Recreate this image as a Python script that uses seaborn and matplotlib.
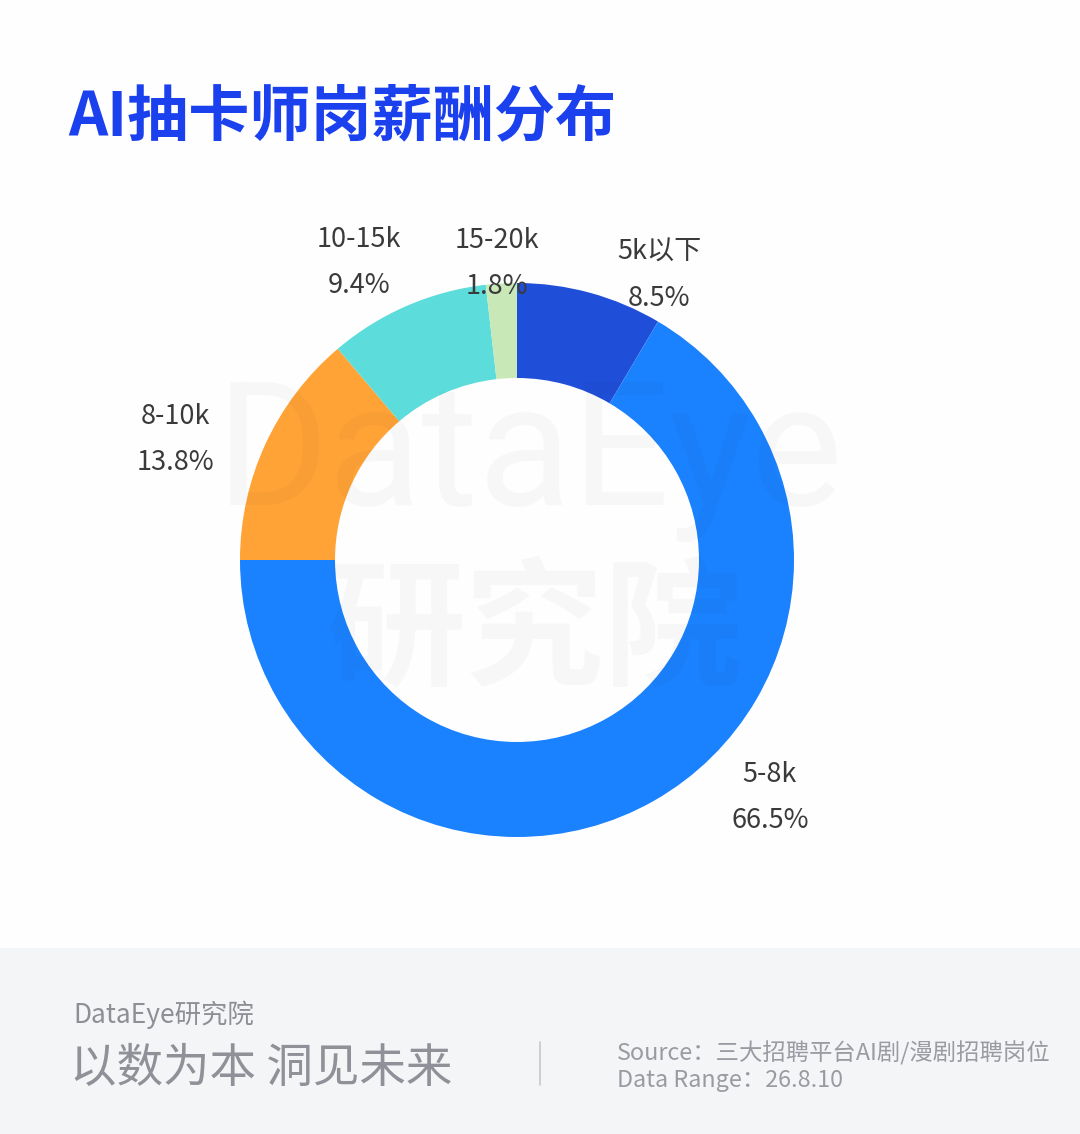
import matplotlib
matplotlib.use("Agg")
import matplotlib.pyplot as plt
import seaborn as sns
import numpy as np

# data, clockwise from 12 o'clock
categories = ["5k以下", "5-8k", "8-10k", "10-15k", "15-20k"]
shares = [8.5, 66.5, 13.8, 9.4, 1.8]
colors = ["#1F4FD8", "#1A82FF", "#FFA336", "#5CDCDA", "#C8E8B8"]

title = "AI抽卡师岗薪酬分布"
source_text = "Source：三大招聘平台AI剧/漫剧招聘岗位"
range_text = "Data Range：26.8.10"

sns.set_theme(style="white")
plt.rcParams['font.family'] = ['Noto Sans CJK SC', 'DejaVu Sans']

W, H, DPI = 1080, 1134, 100
fig = plt.figure(figsize=(W / DPI, H / DPI), dpi=DPI)
fig.patch.set_facecolor("#FEFEFE")

# footer band
band = fig.add_axes([0, 0, 1, 186 / H])
band.set_facecolor("#F4F5F7")
band.set_xticks([]); band.set_yticks([])
for s in band.spines.values():
    s.set_visible(False)

# donut, center (517, 560) px, radius 277 px
cx, cy, R = 517, 560, 277
ax = fig.add_axes([(cx - R) / W, (H - cy - R) / H, 2 * R / W, 2 * R / H])
wedges, _ = ax.pie(shares, colors=colors, startangle=90, counterclock=False,
                   wedgeprops=dict(width=0.343, linewidth=0))
ax.set_xlim(-1, 1); ax.set_ylim(-1, 1)
ax.set_aspect("equal")
ax.axis("off")

# labels: anchored at 1.1R on the mid angle, nudged like the original layout (px, y down)
nudge = {"5k以下": (62, 9), "5-8k": (102, -27), "8-10k": (-65, 8),
         "10-15k": (-37, -18), "15-20k": (-3, 8)}
for w, name, val in zip(wedges, categories, shares):
    mid = np.deg2rad((w.theta1 + w.theta2) / 2)
    xy = (1.1 * np.cos(mid), 1.1 * np.sin(mid))
    nx, ny = nudge[name]
    for txt, dy in ((name, 23), (f"{val}%", -23)):
        ax.annotate(txt, xy=xy, xytext=(nx, -ny + dy), textcoords="offset pixels",
                    ha="center", va="center", fontsize=19.5, color="#3A3A3A",
                    annotation_clip=False)

# faint watermark
fig.text(530 / W, 1 - 460 / H, "DataEye", ha="center", va="center", fontsize=124,
         color="#000000", alpha=0.028, family=["Roboto", "DejaVu Sans"], zorder=10)
fig.text(535 / W, 1 - 635 / H, "研究院", ha="center", va="center", fontsize=100,
         color="#000000", alpha=0.028, fontweight="bold", zorder=10)

# title
fig.text(68 / W, 1 - 117 / H, title, ha="left", va="center", fontsize=44,
         fontweight="bold", color="#1B40EE")

# footer texts
fig.text(73 / W, 1 - 1015 / H, "DataEye研究院", ha="left", va="center",
         fontsize=19, color="#8E8E96")
fig.text(70 / W, 1 - 1069 / H, "以数为本 洞见未来", ha="left", va="center",
         fontsize=33.5, color="#909099")
fig.add_artist(plt.Line2D([540 / W, 540 / W], [1 - 1042 / H, 1 - 1085 / H],
                          color="#C8C8CC", linewidth=1.2))
fig.text(617 / W, 1 - 1053 / H, source_text, ha="left", va="center",
         fontsize=16.8, color="#9A9AA2")
fig.text(617 / W, 1 - 1080 / H, range_text, ha="left", va="center",
         fontsize=16.8, color="#9A9AA2")

fig.savefig("out.png", dpi=DPI, facecolor=fig.get_facecolor())
